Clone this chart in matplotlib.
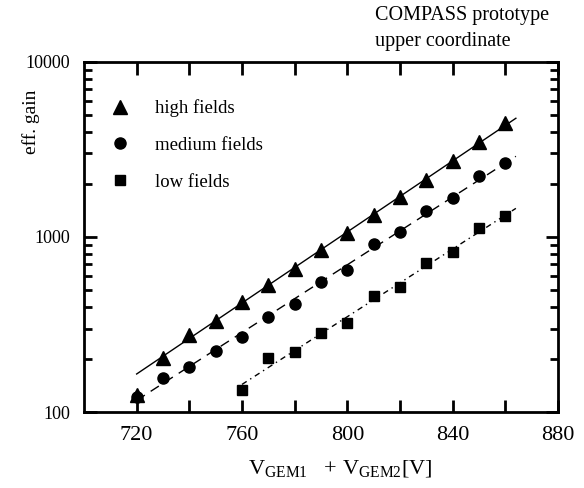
import numpy as np
import matplotlib
matplotlib.use("Agg")
import matplotlib.pyplot as plt
from matplotlib.ticker import FixedLocator, NullFormatter, LogLocator

plt.rcParams['font.family'] = ['Liberation Serif', 'DejaVu Serif']
plt.rcParams['mathtext.fontset'] = 'custom'
plt.rcParams['mathtext.rm'] = 'Liberation Serif'

# Measured effective gain vs. total GEM voltage
v_high = [720, 730, 740, 750, 760, 770, 780, 790, 800, 810, 820, 830, 840, 850, 860]
gain_high = [125, 204, 277, 329, 428, 530, 655, 841, 1055, 1337, 1698, 2130, 2700, 3470, 4470]

v_medium = [720, 730, 740, 750, 760, 770, 780, 790, 800, 810, 820, 830, 840, 850, 860]
gain_medium = [122, 157, 181, 224, 270, 351, 412, 551, 646, 911, 1070, 1410, 1676, 2245, 2630]

v_low = [760, 770, 780, 790, 800, 810, 820, 830, 840, 850, 860]
gain_low = [134, 204, 221, 284, 324, 458, 516, 707, 820, 1127, 1320]

# Exponential fit ranges (first fitted point, line span)
fit_high = dict(start=1, span=(720, 864))
fit_medium = dict(start=0, span=(720, 864))
fit_low = dict(start=0, span=(760, 864))

fig = plt.figure(figsize=(5.84, 4.88), dpi=100)
ax = fig.add_axes([0.1438, 0.1557, 0.8117, 0.7173])

def exp_fit(v, g, start, span):
    v = np.asarray(v[start:], float)
    lg = np.log10(np.asarray(g[start:], float))
    p = np.polyfit(v, lg, 1)
    xs = np.linspace(span[0], span[1], 50)
    return xs, 10 ** np.polyval(p, xs)

xs, ys = exp_fit(v_high, gain_high, **fit_high)
ax.plot(xs, ys, color='black', lw=1.0, ls='-')
xs, ys = exp_fit(v_medium, gain_medium, **fit_medium)
ax.plot(xs, ys, color='black', lw=1.0, ls=(0, (7, 5)))
xs, ys = exp_fit(v_low, gain_low, **fit_low)
ax.plot(xs, ys, color='black', lw=1.0, ls=(0, (4, 3, 1, 3)))

h1, = ax.plot(v_high, gain_high, ls='none', marker='^', ms=9.5, color='black', label='high fields')
h2, = ax.plot(v_medium, gain_medium, ls='none', marker='o', ms=8, color='black', label='medium fields')
h3, = ax.plot(v_low, gain_low, ls='none', marker='s', ms=7, color='black', label='low fields')

ax.set_yscale('log')
ax.set_xlim(700, 880)
ax.set_ylim(100, 10000)

ax.xaxis.set_major_locator(FixedLocator([720, 760, 800, 840, 880]))
ax.xaxis.set_minor_locator(FixedLocator([740, 780, 820, 860]))
ax.yaxis.set_major_locator(FixedLocator([100, 1000, 10000]))
ax.yaxis.set_minor_locator(LogLocator(base=10, subs=np.arange(2, 10)))
ax.yaxis.set_minor_formatter(NullFormatter())
ax.set_yticklabels(['100', '1000', '10000'])

ax.tick_params(which='both', direction='in', top=True, right=True, width=2)
ax.tick_params(which='major', length=9, pad=9)
ax.tick_params(which='minor', length=5.5)
ax.tick_params(axis='x', which='minor', length=9)
ax.tick_params(axis='x', labelsize=16, pad=10)
ax.tick_params(axis='y', labelsize=13, pad=10)
for s in ax.spines.values():
    s.set_linewidth(2)

ax.set_xlabel(r'$\mathrm{V}_{\mathrm{GEM1}}$   + $\mathrm{V}_{\mathrm{GEM2}}$[V]', fontsize=16)
ax.xaxis.set_label_coords(0.54, -0.135)
ax.set_ylabel('eff. gain', fontsize=14)
ax.yaxis.set_label_coords(-0.093, 0.83)

ax.legend(handles=[h1, h2, h3], loc='upper left', bbox_to_anchor=(0.04, 0.915),
          frameon=False, fontsize=13.5, handlelength=1.0, handletextpad=1.4,
          labelspacing=1.05, borderaxespad=0)

fig.text(0.642, 0.968, 'COMPASS prototype', fontsize=14.5, ha='left', va='center')
fig.text(0.642, 0.915, 'upper coordinate', fontsize=14.5, ha='left', va='center')

fig.savefig('out.png', dpi=100)
